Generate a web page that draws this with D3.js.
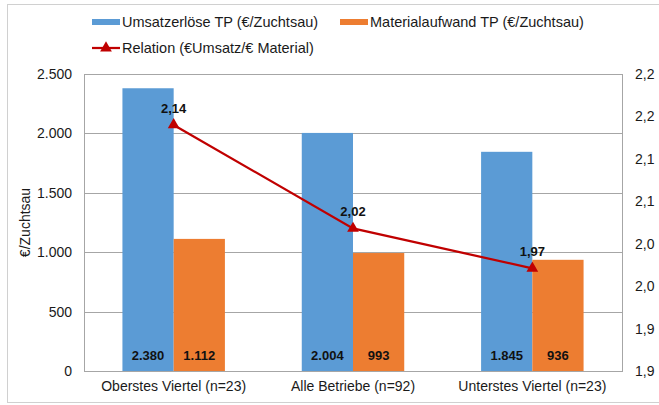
<!DOCTYPE html>
<html lang="de">
<head>
<meta charset="UTF-8">
<title>Umsatz und Materialaufwand</title>
<style>
  body { margin: 0; background: #fff; }
  svg { display: block; font-family: "Liberation Sans", Arial, sans-serif; }
  .tick text { font-size: 14px; fill: #1a1a1a; }
  .lbl { font-size: 13px; font-weight: bold; fill: #111; }
</style>
</head>
<body>
<svg></svg>
<script src="https://cdn.jsdelivr.net/npm/d3@7"></script>
<script>
  // data
  let categories = ['Oberstes Viertel (n=23)', 'Alle Betriebe (n=92)', 'Unterstes Viertel (n=23)'];
  let umsatz = [2380, 2004, 1845];
  let material = [1112, 993, 936];
  let relation = [2.140, 2.018, 1.971];
  let leftTicks = [0, 500, 1000, 1500, 2000, 2500];
  let rightTicks = [1.85, 1.90, 1.95, 2.00, 2.05, 2.10, 2.15, 2.20];
  let seriesNames = ['Umsatzerlöse TP (€/Zuchtsau)', 'Materialaufwand TP (€/Zuchtsau)', 'Relation (€Umsatz/€ Material)'];

  let width = 659, height = 405;
  let blue = '#5b9bd5', orange = '#ed7d31', red = '#c00000', grid = '#a6a6a6';
  let plot = { left: 84, right: 622, top: 74, bottom: 371 };

  let svg = d3.select('svg').attr('width', width).attr('height', height);

  // outer chart border
  svg.append('rect')
    .attr('x', 7.5).attr('y', 4.5)
    .attr('width', 660).attr('height', 398)
    .attr('fill', 'none').attr('stroke', '#d0d0d0');

  let x = d3.scaleBand().domain(categories).range([plot.left, plot.right]).paddingInner(0).paddingOuter(0);
  let bandInner = d3.scaleBand().domain([0, 1]).range([0, x.bandwidth()]).paddingInner(0).paddingOuter(0.75);
  let y = d3.scaleLinear().domain([0, 2500]).range([plot.bottom, plot.top]);
  let y2 = d3.scaleLinear().domain([1.85, 2.2]).range([plot.bottom, plot.top]);

  let comma1 = v => (Math.round(v * 10 + 1e-6) / 10).toFixed(1).replace('.', ',');
  let comma2 = v => v.toFixed(2).replace('.', ',');
  let thousands = d3.formatLocale({ decimal: ',', thousands: '.', grouping: [3], currency: ['', '€'] }).format(',d');

  // grid lines
  svg.append('g')
    .selectAll('line')
    .data(leftTicks)
    .join('line')
    .attr('x1', plot.left).attr('x2', plot.right)
    .attr('y1', d => Math.round(y(d)) + 0.5).attr('y2', d => Math.round(y(d)) + 0.5)
    .attr('stroke', grid);

  // plot border (left, right)
  svg.append('line').attr('x1', plot.left + 0.5).attr('x2', plot.left + 0.5)
    .attr('y1', plot.top).attr('y2', plot.bottom).attr('stroke', grid);
  svg.append('line').attr('x1', plot.right + 0.5).attr('x2', plot.right + 0.5)
    .attr('y1', plot.top).attr('y2', plot.bottom).attr('stroke', grid);

  // left axis
  let yAxis = svg.append('g')
    .attr('transform', `translate(${plot.left},0)`)
    .call(d3.axisLeft(y).tickValues(leftTicks).tickFormat(thousands).tickSize(0).tickPadding(12));
  yAxis.select('.domain').remove();

  // right axis
  let y2Axis = svg.append('g')
    .attr('transform', `translate(${plot.right},0)`)
    .call(d3.axisRight(y2).tickValues(rightTicks).tickFormat(comma1).tickSize(0).tickPadding(13));
  y2Axis.select('.domain').remove();

  // bottom axis
  let xAxis = svg.append('g')
    .attr('transform', `translate(0,${plot.bottom})`)
    .call(d3.axisBottom(x).tickSize(0).tickPadding(10));
  xAxis.select('.domain').remove();

  svg.append('text')
    .attr('transform', `translate(30,${(plot.top + plot.bottom) / 2}) rotate(-90)`)
    .attr('text-anchor', 'middle')
    .style('font-size', '14px').attr('fill', '#1a1a1a')
    .text('€/Zuchtsau');

  // bars
  let series = [umsatz, material];
  let colors = [blue, orange];
  series.forEach((vals, s) => {
    svg.append('g')
      .selectAll('rect')
      .data(vals)
      .join('rect')
      .attr('x', (d, i) => x(categories[i]) + bandInner(s))
      .attr('width', bandInner.bandwidth())
      .attr('y', d => y(d))
      .attr('height', d => y(0) - y(d))
      .attr('fill', colors[s]);

    svg.append('g')
      .selectAll('text')
      .data(vals)
      .join('text')
      .attr('class', 'lbl')
      .attr('x', (d, i) => x(categories[i]) + bandInner(s) + bandInner.bandwidth() / 2)
      .attr('y', y(0) - 11)
      .attr('text-anchor', 'middle')
      .text(d => thousands(d));
  });

  // x axis line
  svg.append('line').attr('x1', plot.left).attr('x2', plot.right + 1)
    .attr('y1', plot.bottom + 0.5).attr('y2', plot.bottom + 0.5).attr('stroke', grid);

  // relation line
  let cx = (d, i) => x(categories[i]) + x.bandwidth() / 2;
  let line = d3.line().x(cx).y(d => y2(d));
  svg.append('path')
    .datum(relation)
    .attr('d', line)
    .attr('fill', 'none')
    .attr('stroke', red)
    .attr('stroke-width', 2.25);

  let tri = d3.symbol().type(d3.symbolTriangle).size(60);
  svg.append('g')
    .selectAll('path')
    .data(relation)
    .join('path')
    .attr('d', tri)
    .attr('transform', (d, i) => `translate(${cx(d, i)},${y2(d)})`)
    .attr('fill', red);

  svg.append('g')
    .selectAll('text')
    .data(relation)
    .join('text')
    .attr('class', 'lbl')
    .attr('x', cx)
    .attr('y', d => y2(d) - 12)
    .attr('text-anchor', 'middle')
    .text(d => comma2(d));

  // legend
  let legend = svg.append('g').style('font-size', '14.5px');
  let leg = [
    { x: 92, y: 22, color: blue, name: seriesNames[0], type: 'bar' },
    { x: 340, y: 22, color: orange, name: seriesNames[1], type: 'bar' },
    { x: 92, y: 48, color: red, name: seriesNames[2], type: 'line' }
  ];
  leg.forEach(l => {
    if (l.type === 'bar') {
      legend.append('rect').attr('x', l.x).attr('y', l.y - 3).attr('width', 28).attr('height', 6).attr('fill', l.color);
    } else {
      legend.append('line').attr('x1', l.x).attr('x2', l.x + 28).attr('y1', l.y).attr('y2', l.y)
        .attr('stroke', l.color).attr('stroke-width', 2.25);
      legend.append('path').attr('d', tri).attr('transform', `translate(${l.x + 14},${l.y})`).attr('fill', l.color);
    }
    legend.append('text').attr('x', l.x + 30).attr('y', l.y + 5).attr('fill', '#1a1a1a').text(l.name);
  });
</script>
</body>
</html>
